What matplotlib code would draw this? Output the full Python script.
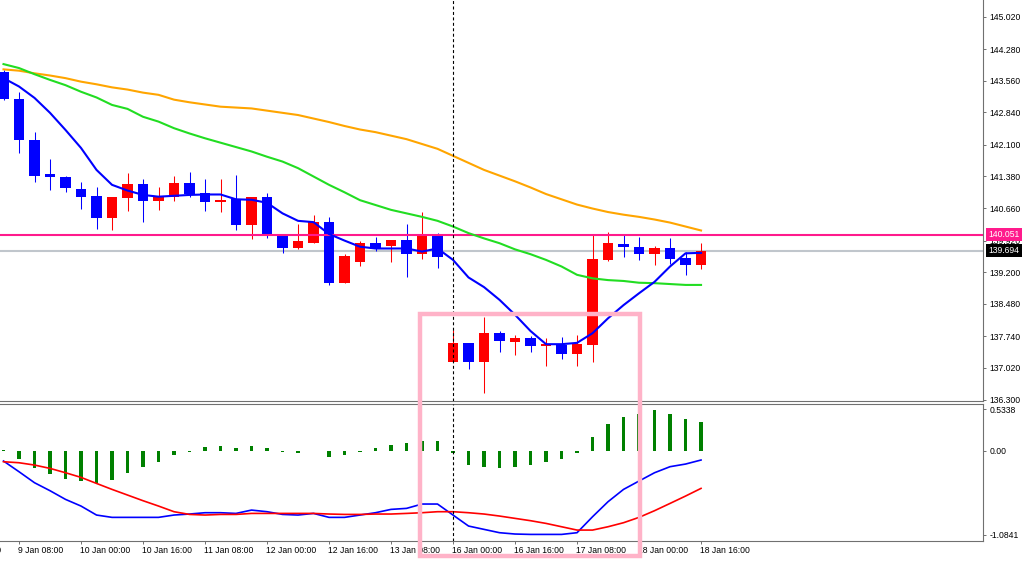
import matplotlib
matplotlib.use("Agg")
import matplotlib.pyplot as plt
from matplotlib.patches import Rectangle

plt.rcParams['font.family'] = ['Liberation Sans', 'DejaVu Sans']

# H4 candles, 9 Jan 04:00 .. 18 Jan 16:00
opens = [143.77, 143.14, 142.20, 141.43, 141.36, 141.09, 140.94, 140.43, 140.90, 141.21,
         140.83, 140.92, 141.23, 141.00, 140.81, 140.86, 140.28, 140.92, 140.05, 139.74,
         139.87, 140.35, 138.95, 139.44, 139.86, 139.80, 139.93, 139.61, 140.05, 137.15,
         137.58, 137.15, 137.82, 137.62, 137.71, 137.52, 137.54, 137.33, 137.54, 139.48,
         139.84, 139.77, 139.61, 139.76, 139.52, 139.36]
highs = [143.81, 143.31, 142.40, 141.77, 141.39, 141.26, 141.15, 140.91, 141.45, 141.32,
         141.15, 141.39, 141.48, 141.32, 141.32, 141.41, 140.91, 141.00, 140.05, 140.30,
         140.50, 140.45, 139.61, 139.92, 140.00, 139.93, 140.30, 140.57, 140.09, 137.88,
         137.58, 138.17, 137.87, 137.77, 137.75, 137.69, 137.73, 137.77, 140.05, 140.12,
         140.05, 140.01, 139.80, 139.97, 139.67, 139.86]
lows = [143.12, 141.92, 141.26, 141.07, 141.02, 140.63, 140.19, 140.16, 140.60, 140.35,
        140.62, 140.83, 140.92, 140.60, 140.58, 140.15, 139.95, 139.99, 139.63, 139.72,
        139.87, 138.91, 138.95, 139.33, 139.69, 139.44, 139.10, 139.50, 139.29, 137.15,
        136.99, 136.44, 137.39, 137.31, 137.39, 137.06, 137.22, 137.06, 137.15, 139.46,
        139.55, 139.48, 139.36, 139.39, 139.14, 139.27]
closes = [143.14, 142.20, 141.40, 141.36, 141.11, 140.92, 140.43, 140.91, 141.21, 140.83,
          140.92, 141.23, 140.98, 140.81, 140.85, 140.28, 140.91, 140.05, 139.74, 139.90,
          140.35, 138.95, 139.57, 139.86, 139.72, 139.93, 139.61, 140.05, 139.54, 137.58,
          137.15, 137.82, 137.64, 137.71, 137.53, 137.56, 137.33, 137.56, 139.49, 139.86,
          139.78, 139.61, 139.76, 139.50, 139.36, 139.69]

ma_fast = [143.62, 143.43, 143.17, 142.83, 142.44, 142.03, 141.53, 141.19, 141.06, 140.96,
           140.92, 140.94, 140.96, 140.97, 140.97, 140.86, 140.85, 140.78, 140.54, 140.37,
           140.34, 140.07, 139.92, 139.78, 139.74, 139.74, 139.74, 139.67, 139.74, 139.48,
           139.08, 138.86, 138.57, 138.23, 137.86, 137.56, 137.56, 137.59, 137.81, 138.15,
           138.45, 138.72, 138.98, 139.33, 139.63, 139.64]
ma_mid = [143.94, 143.85, 143.71, 143.58, 143.46, 143.31, 143.18, 143.01, 142.92, 142.74,
          142.63, 142.48, 142.36, 142.25, 142.15, 142.05, 141.95, 141.83, 141.72, 141.57,
          141.38, 141.19, 141.02, 140.84, 140.73, 140.62, 140.54, 140.46, 140.37, 140.24,
          140.09, 139.97, 139.86, 139.72, 139.61, 139.48, 139.33, 139.14, 139.06, 139.02,
          139.00, 138.96, 138.95, 138.93, 138.91, 138.91]
ma_slow = [143.82, 143.79, 143.73, 143.68, 143.62, 143.54, 143.48, 143.41, 143.36, 143.29,
           143.24, 143.13, 143.07, 143.02, 142.97, 142.95, 142.93, 142.88, 142.83, 142.78,
           142.70, 142.62, 142.53, 142.45, 142.39, 142.31, 142.23, 142.12, 142.01, 141.85,
           141.69, 141.53, 141.40, 141.27, 141.13, 140.98, 140.86, 140.74, 140.65, 140.57,
           140.51, 140.46, 140.40, 140.33, 140.24, 140.15]

osc_hist = [0.01, -0.112, -0.228, -0.301, -0.370, -0.391, -0.413, -0.378, -0.284, -0.215,
            -0.146, -0.060, -0.013, 0.043, 0.065, 0.03, 0.065, 0.03, -0.02, -0.035,
            -0.005, -0.077, -0.056, -0.02, 0.03, 0.073, 0.095, 0.125, 0.125, -0.03,
            -0.185, -0.206, -0.219, -0.206, -0.185, -0.151, -0.112, -0.034, 0.172, 0.340,
            0.439, 0.48, 0.53, 0.473, 0.409, 0.366]
osc_blue = [-0.133, -0.271, -0.413, -0.516, -0.628, -0.714, -0.830, -0.860, -0.860, -0.860,
            -0.860, -0.830, -0.817, -0.800, -0.800, -0.809, -0.766, -0.787, -0.822, -0.830,
            -0.809, -0.860, -0.860, -0.830, -0.800, -0.757, -0.744, -0.688, -0.688, -0.830,
            -0.972, -1.015, -1.058, -1.075, -1.080, -1.080, -1.080, -1.058, -0.852, -0.658,
            -0.499, -0.391, -0.284, -0.206, -0.172, -0.120]
osc_red = [-0.142, -0.155, -0.185, -0.228, -0.284, -0.344, -0.422, -0.499, -0.572, -0.645,
           -0.714, -0.787, -0.822, -0.830, -0.822, -0.822, -0.809, -0.809, -0.809, -0.809,
           -0.809, -0.817, -0.822, -0.822, -0.817, -0.817, -0.809, -0.800, -0.787, -0.787,
           -0.800, -0.817, -0.843, -0.873, -0.903, -0.938, -0.981, -1.024, -1.024, -0.981,
           -0.929, -0.860, -0.774, -0.680, -0.585, -0.486]

time_ticks = [-3, 1, 5, 9, 13, 17, 21, 25, 29, 33, 37, 41, 45]
time_labels = ['6 Jan 16:00', '9 Jan 08:00', '10 Jan 00:00', '10 Jan 16:00', '11 Jan 08:00',
               '12 Jan 00:00', '12 Jan 16:00', '13 Jan 08:00', '16 Jan 00:00', '16 Jan 16:00',
               '17 Jan 08:00', '18 Jan 00:00', '18 Jan 16:00']
price_ticks = [145.020, 144.280, 143.560, 142.840, 142.100, 141.380, 140.660, 139.920,
               139.200, 138.480, 137.740, 137.020, 136.300]
osc_ticks = [0.5338, 0.0, -1.0841]
osc_tick_labels = ['0.5338', '0.00', '-1.0841']
level_price = 140.051
bid_price = 139.694
separator_bar = 29
box_bars = (26.84, 41.06)
box_top_price = 138.25

W, H = 1024, 562
fig = plt.figure(figsize=(W / 100, H / 100), dpi=100)
ax = fig.add_axes([0, 1 - 401 / H, 983 / W, 401 / H])
ax2 = fig.add_axes([0, 1 - 541 / H, 983 / W, (541 - 404) / H])

n = len(opens)
xs = list(range(n))
axis_col = '#707070'
tick_fs = 6.2

# candles
for i in xs:
    up = closes[i] >= opens[i]
    col = '#FF0000' if up else '#0000FF'
    ax.vlines(i, lows[i], highs[i], color=col, lw=0.75, zorder=2)
    lo, hi = min(opens[i], closes[i]), max(opens[i], closes[i])
    ax.bar(i, hi - lo, bottom=lo, width=0.66, color=col, lw=0, zorder=3)

ax.axhline(bid_price, color='#C0C6CC', lw=1.5, zorder=1)
ax.axhline(level_price, color='#FF1A8C', lw=1.5, zorder=4)
ax.plot(xs, ma_slow, color='#FFA500', lw=1.5, zorder=5)
ax.plot(xs, ma_mid, color='#22DD22', lw=1.5, zorder=5)
ax.plot(xs, ma_fast, color='#0000FF', lw=1.5, zorder=5)

x_lo, x_hi = -0.226, 63.19
ax.set_xlim(x_lo, x_hi)
ax.set_ylim(136.266, 145.40)
ax.set_xticks([])
ax.yaxis.tick_right()
ax.set_yticks(price_ticks)
ax.set_yticklabels([f'{p:.3f}' for p in price_ticks])
ax.tick_params(axis='y', direction='out', length=2.2, width=0.7, pad=2.5,
               labelsize=tick_fs, colors=axis_col, labelcolor='black')
for s in ['top', 'left']:
    ax.spines[s].set_visible(False)
for s in ['right', 'bottom']:
    ax.spines[s].set_color(axis_col)
    ax.spines[s].set_linewidth(0.8)

# price labels on the right scale
ax.annotate(f'{level_price:.3f}', xy=(1, level_price), xycoords=('axes fraction', 'data'),
            xytext=(4, 0), textcoords='offset points', ha='left', va='center',
            fontsize=tick_fs, color='white', annotation_clip=False, zorder=10,
            bbox=dict(boxstyle='square,pad=0.25', fc='#FF1A8C', ec='none'))
ax.annotate(f'{bid_price:.3f}', xy=(1, bid_price), xycoords=('axes fraction', 'data'),
            xytext=(4, 0), textcoords='offset points', ha='left', va='center',
            fontsize=tick_fs, color='white', annotation_clip=False, zorder=10,
            bbox=dict(boxstyle='square,pad=0.25', fc='black', ec='none'))

# oscillator panel
ax2.bar(xs, osc_hist, width=0.2, color='#008000', lw=0, zorder=2)
ax2.plot(xs, osc_blue, color='#0000FF', lw=1.2, zorder=3)
ax2.plot(xs, osc_red, color='#FF0000', lw=1.2, zorder=3)
ax2.set_xlim(x_lo, x_hi)
ax2.set_ylim(-1.165, 0.603)
ax2.yaxis.tick_right()
ax2.set_yticks(osc_ticks)
ax2.set_yticklabels(osc_tick_labels)
ax2.tick_params(axis='y', direction='out', length=2.2, width=0.7, pad=2.5,
                labelsize=tick_fs, colors=axis_col, labelcolor='black')
ax2.set_xticks(time_ticks[1:])
ax2.set_xticklabels([])
ax2.tick_params(axis='x', direction='out', length=2.2, width=0.7, colors=axis_col)
ax2.spines['left'].set_visible(False)
for s in ['right', 'bottom', 'top']:
    ax2.spines[s].set_color(axis_col)
    ax2.spines[s].set_linewidth(0.8)
# time labels start at their tick, the first one runs off the left edge as in the original
for pos, lab in zip(time_ticks, time_labels):
    ax2.annotate(lab, xy=(pos, 0), xycoords=('data', 'axes fraction'),
                 xytext=(-0.5, -6.8), textcoords='offset points', ha='left', va='center',
                 fontsize=6.2, color='black', annotation_clip=False)

for a in (ax, ax2):
    a.axvline(separator_bar, color='black', lw=0.8, ls=(0, (2.7, 2.2)), zorder=6)

# highlight box
fig.canvas.draw()
inv = fig.transFigure.inverted()
x0, y0 = inv.transform(ax.transData.transform((box_bars[0], box_top_price)))
x1, _ = inv.transform(ax.transData.transform((box_bars[1], box_top_price)))
y_bottom = 1 - 555.5 / H
fig.add_artist(Rectangle((x0, y_bottom), x1 - x0, y0 - y_bottom, transform=fig.transFigure,
                         fill=False, ec='#FFB3C8', lw=3.2, zorder=20))

fig.savefig('out.png', dpi=100, facecolor='white')
